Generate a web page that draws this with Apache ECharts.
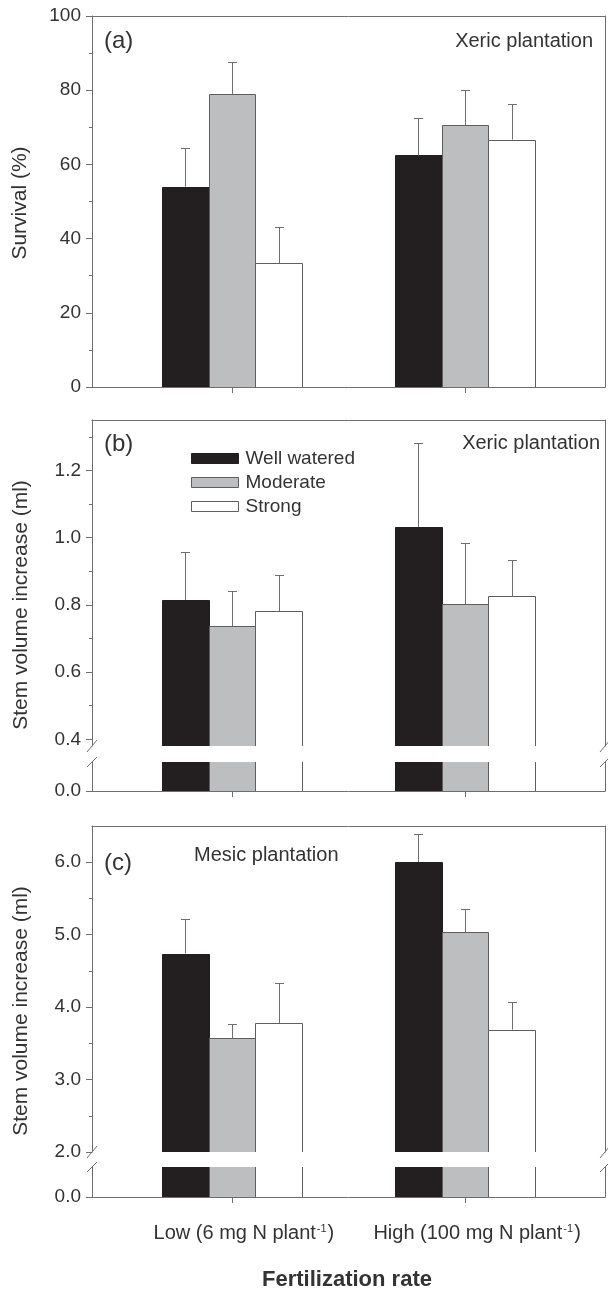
<!DOCTYPE html>
<html>
<head>
<meta charset="utf-8">
<script src="https://cdn.jsdelivr.net/npm/echarts@6/dist/echarts.min.js"></script>
<style>
html,body{margin:0;padding:0;background:#fff;}
#chart{width:608px;height:1289px;}
</style>
</head>
<body>
<div id="chart"></div>
<script>
// ---------------- DATA ----------------
const treatments = ['Well watered', 'Moderate', 'Strong'];
const categoryPos = [1, 2];
const categoryLabels = ['Low (6 mg N plant', 'High (100 mg N plant'];
const categorySup = ['-1', '-1'];

// Panel (a) survival (%)  rows: treatments, cols: Low, High
const survivalMean = [[54.0, 62.4], [79.0, 70.6], [33.3, 66.7]];
const survivalSE   = [[10.5, 10.2], [8.5, 9.5], [9.8, 9.7]];

// Panel (b) xeric stem volume increase (ml)
const xericMean = [[0.814, 1.032], [0.736, 0.802], [0.781, 0.826]];
const xericSE   = [[0.144, 0.249], [0.106, 0.183], [0.109, 0.107]];

// Panel (c) mesic stem volume increase (ml)
const mesicMean = [[4.74, 6.00], [3.57, 5.03], [3.78, 3.69]];
const mesicSE   = [[0.47, 0.39], [0.19, 0.32], [0.55, 0.38]];

// Tick labels
const aMajor = [0, 20, 40, 60, 80, 100];
const aMinor = [10, 30, 50, 70, 90];
const bMajor = [0.4, 0.6, 0.8, 1.0, 1.2];
const bMinor = [0.5, 0.7, 0.9, 1.1, 1.3];
const cMajor = [2, 3, 4, 5, 6];
const cMinor = [2.5, 3.5, 4.5, 5.5];
const lowerTicks = [0];

// ---------------- STYLE ----------------
const FONT = '"Liberation Sans", Arial, Helvetica, sans-serif';
const TXT = '#333333';
const LINE = '#6e6e6e';
const FILLS = ['#231f20', '#bcbec0', '#ffffff'];
const BORDERS = ['#231f20', '#5e5e5e', '#5e5e5e'];
const BAR_W = 0.2;
const L = 92, R = 3;

const grids = [
  {top: 16,  height: 371, min: 0,    max: 100,  major: aMajor, minor: aMinor, dec: 0, frameTop: true,  frameBottom: true,  xticks: true,  xlabels: false},
  {top: 420, height: 326, min: 0.38, max: 1.35, major: bMajor, minor: bMinor, dec: 1, frameTop: true,  frameBottom: false, xticks: false, xlabels: false},
  {top: 762, height: 29,  min: 0,    max: 0.086,major: lowerTicks, minor: [], dec: 1, frameTop: false, frameBottom: true,  xticks: true,  xlabels: false},
  {top: 826, height: 326, min: 2.0,  max: 6.5,  major: cMajor, minor: cMinor, dec: 1, frameTop: true,  frameBottom: false, xticks: false, xlabels: false},
  {top: 1167,height: 30,  min: 0,    max: 0.415,major: lowerTicks, minor: [], dec: 1, frameTop: false, frameBottom: true,  xticks: true,  xlabels: true}
];

const gridOpt = [], xAxes = [], yAxes = [];
grids.forEach((g, i) => {
  gridOpt.push({left: L, right: R, top: g.top, height: g.height, containLabel: false});
  xAxes.push({
    type: 'value', gridIndex: i, position: 'bottom', min: 0.4, max: 2.6,
    splitLine: {show: false},
    axisLine: {show: g.frameBottom, onZero: false, lineStyle: {color: LINE, width: 1}},
    axisTick: {show: g.xticks, customValues: categoryPos, length: 6, lineStyle: {color: LINE}},
    axisLabel: g.xlabels ? {
      show: true, customValues: categoryPos, margin: 26, color: TXT,
      formatter: (v) => { const k = categoryPos.indexOf(v); return '{t|' + categoryLabels[k] + '}{s|' + categorySup[k] + '}{t|)}'; },
      rich: {
        t: {fontFamily: FONT, fontSize: 20, color: TXT},
        s: {fontFamily: FONT, fontSize: 11, color: TXT, padding: [0, 1, 10, 1]}
      },
      padding: [0, 0, 0, 24]
    } : {show: false}
  });
  xAxes.push({
    type: 'value', gridIndex: i, position: 'top', min: 0.4, max: 2.6,
    splitLine: {show: false},
    axisLine: {show: g.frameTop, onZero: false, lineStyle: {color: LINE, width: 1}},
    axisTick: {show: false}, axisLabel: {show: false}
  });
  yAxes.push({
    type: 'value', gridIndex: i, position: 'left', min: g.min, max: g.max,
    splitLine: {show: false},
    axisLine: {show: true, onZero: false, lineStyle: {color: LINE, width: 1}},
    axisTick: {show: true, customValues: g.major, length: 6, lineStyle: {color: LINE}},
    axisLabel: {show: true, customValues: g.major, margin: 11, color: TXT, fontFamily: FONT, fontSize: 19,
      formatter: (v) => Number(v).toFixed(g.dec)}
  });
  yAxes.push({
    type: 'value', gridIndex: i, position: 'left', min: g.min, max: g.max,
    splitLine: {show: false},
    axisLine: {show: false},
    axisTick: {show: g.minor.length > 0, customValues: g.minor.length ? g.minor : [g.min], length: 3, lineStyle: {color: LINE}},
    axisLabel: {show: false}
  });
  yAxes.push({
    type: 'value', gridIndex: i, position: 'right', min: g.min, max: g.max,
    splitLine: {show: false},
    axisLine: {show: true, onZero: false, lineStyle: {color: LINE, width: 1}},
    axisTick: {show: false}, axisLabel: {show: false}
  });
});

function makeBarRender(k) {
  return function (params, api) {
    const cs = params.coordSys;
    const x = api.value(0), v = api.value(1);
    const w = api.size([BAR_W, 0])[0];
    const pt = api.coord([x, v]);
    const cx = pt[0] + (k - 1) * w;
    const bottom = cs.y + cs.height;
    const clipped = pt[1] < cs.y;
    const top = clipped ? cs.y : pt[1];
    const x0 = Math.round(cx - w / 2) + 0.5, x1 = Math.round(cx + w / 2) + 0.5;
    const yt = Math.round(top) + 0.5;
    const children = [{
      type: 'rect', shape: {x: x0, y: clipped ? cs.y : yt, width: x1 - x0, height: bottom - (clipped ? cs.y : yt)},
      style: {fill: FILLS[k], stroke: null}
    }];
    const st = {stroke: BORDERS[k], lineWidth: 1, fill: null};
    if (clipped) {
      children.push({type: 'line', shape: {x1: x0, y1: cs.y, x2: x0, y2: bottom}, style: st});
      children.push({type: 'line', shape: {x1: x1, y1: cs.y, x2: x1, y2: bottom}, style: st});
    } else {
      children.push({type: 'polyline', shape: {points: [[x0, bottom], [x0, yt], [x1, yt], [x1, bottom]]}, style: st});
    }
    return {type: 'group', children: children};
  };
}

function makeErrRender(k) {
  return function (params, api) {
    const x = api.value(0), v = api.value(1), se = api.value(2);
    const w = api.size([BAR_W, 0])[0];
    const p0 = api.coord([x, v]);
    const p1 = api.coord([x, v + se]);
    const cx = Math.round(p0[0] + (k - 1) * w) + 0.5;
    const yt = Math.round(p1[1]) + 0.5;
    const st = {stroke: LINE, lineWidth: 1};
    return {type: 'group', children: [
      {type: 'line', shape: {x1: cx, y1: p0[1], x2: cx, y2: yt}, style: st},
      {type: 'line', shape: {x1: cx - 4.5, y1: yt, x2: cx + 4.5, y2: yt}, style: st}
    ]};
  };
}

const panels = [
  {grids: [0], mean: survivalMean, se: survivalSE},
  {grids: [1, 2], mean: xericMean, se: xericSE},
  {grids: [3, 4], mean: mesicMean, se: mesicSE}
];

const series = [];
panels.forEach((p) => {
  p.grids.forEach((gi, j) => {
    treatments.forEach((name, k) => {
      const data = categoryPos.map((x, c) => [x, p.mean[k][c], p.se[k][c]]);
      series.push({
        type: 'custom', name: name, xAxisIndex: 2 * gi, yAxisIndex: 3 * gi,
        coordinateSystem: 'cartesian2d', silent: true, clip: false,
        encode: {x: 0, y: 1},
        itemStyle: {color: FILLS[k], borderColor: BORDERS[k], borderWidth: 1},
        renderItem: makeBarRender(k), data: data, z: 2
      });
      if (j === 0) {
        series.push({
          type: 'custom', name: name + ' SE', xAxisIndex: 2 * gi, yAxisIndex: 3 * gi,
          coordinateSystem: 'cartesian2d', silent: true,
          encode: {x: 0, y: 1},
          renderItem: makeErrRender(k), data: data, z: 3
        });
      }
    });
  });
});

function slashes(yUp, yLow) {
  const out = [];
  [L, 608 - R].forEach((xa) => {
    out.push({type: 'line', shape: {x1: xa - 5, y1: yUp + 6, x2: xa + 5, y2: yUp - 6}, style: {stroke: LINE, lineWidth: 1}});
    out.push({type: 'line', shape: {x1: xa - 5, y1: yLow + 5, x2: xa + 5, y2: yLow - 5}, style: {stroke: LINE, lineWidth: 1}});
  });
  return out;
}

function txt(text, x, y, size, align, opts) {
  return Object.assign({type: 'text', x: x, y: y, silent: true,
    style: {text: text, fontFamily: FONT, fontSize: size, fill: TXT, align: align, verticalAlign: 'middle'}}, opts || {});
}

const graphics = [].concat(
  slashes(grids[1].top + grids[1].height, grids[2].top),
  slashes(grids[3].top + grids[3].height, grids[4].top),
  [
    txt('(a)', 104, 41, 24, 'left'),
    txt('Xeric plantation', 593, 41, 20, 'right'),
    txt('(b)', 104, 444, 24, 'left'),
    txt('Xeric plantation', 600, 443, 20, 'right'),
    txt('(c)', 104, 863, 24, 'left'),
    txt('Mesic plantation', 194, 855, 20, 'left'),
    txt('Survival (%)', 20, 203, 21, 'center', {rotation: Math.PI / 2}),
    txt('Stem volume increase (ml)', 21, 605, 21, 'center', {rotation: Math.PI / 2}),
    txt('Stem volume increase (ml)', 21, 1011, 21, 'center', {rotation: Math.PI / 2}),
    {type: 'text', x: 347, y: 1280, silent: true,
      style: {text: 'Fertilization rate', fontFamily: FONT, fontSize: 22, fontWeight: 'bold', fill: TXT, align: 'center', verticalAlign: 'middle'}}
  ]
);

const chart = echarts.init(document.getElementById('chart'), null, {renderer: 'canvas'});
chart.setOption({
  animation: false,
  backgroundColor: '#ffffff',
  grid: gridOpt,
  xAxis: xAxes,
  yAxis: yAxes,
  legend: {
    orient: 'vertical', left: 186, top: 444,
    data: treatments.map((n, k) => ({name: n, itemStyle: {color: FILLS[k], borderColor: BORDERS[k], borderWidth: 1}})),
    icon: 'rect', itemWidth: 47, itemHeight: 10, itemGap: 5,
    selectedMode: false,
    textStyle: {fontFamily: FONT, fontSize: 19, color: TXT, lineHeight: 19, padding: [0, 0, 0, 2]}
  },
  series: series,
  graphic: graphics
});
</script>
</body>
</html>
